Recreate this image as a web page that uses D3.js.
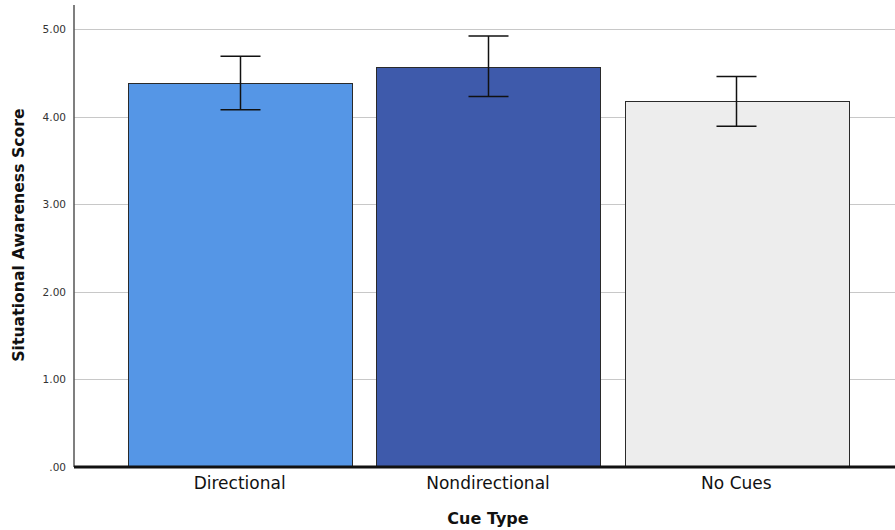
<!DOCTYPE html>
<html>
<head>
<meta charset="utf-8">
<script src="https://cdn.jsdelivr.net/npm/d3@7"></script>
<style>
  body { margin: 0; background: #fff; }
  svg text { font-family: "DejaVu Sans", sans-serif; }
</style>
</head>
<body>
<svg id="chart" width="895" height="530"></svg>
<script>
var categories = ["Directional", "Nondirectional", "No Cues"];
var means = [4.39, 4.57, 4.18];
var ciLow = [4.08, 4.23, 3.89];
var ciHigh = [4.69, 4.92, 4.46];
var barColors = ["#5596e6", "#3e5aab", "#ededed"];
var yTicks = [0, 1, 2, 3, 4, 5];

var svg = d3.select("#chart");

var plotLeft = 74, plotBottom = 467, plotTop = 5, plotRight = 895;

var y = d3.scaleLinear()
        .domain([0, 5.275])
        .range([plotBottom, plotTop]);

var x = d3.scaleBand()
        .domain(categories)
        .range([plotLeft, 902])
        .paddingInner(0.1)
        .paddingOuter(0.217);

// gridlines
svg.append("g")
        .selectAll("line")
        .data(yTicks.slice(1))
        .enter().append("line")
        .attr("x1", plotLeft)
        .attr("x2", plotRight)
        .attr("y1", function(d){ return Math.round(y(d)) + 0.5; })
        .attr("y2", function(d){ return Math.round(y(d)) + 0.5; })
        .style("stroke", "#c8c8c8")
        .style("stroke-width", 1);

// y axis
var yAxis = svg.append("g")
        .attr("transform", "translate(" + plotLeft + ",0)")
        .call(d3.axisLeft(y)
            .tickValues(yTicks)
            .tickSize(0)
            .tickPadding(8)
            .tickFormat(function(d){ return d === 0 ? ".00" : d3.format(".2f")(d); }));
yAxis.select(".domain").remove();
yAxis.selectAll("text")
        .style("font-size", "10.5px")
        .style("fill", "#333");

svg.append("line")
        .attr("x1", plotLeft)
        .attr("x2", plotLeft)
        .attr("y1", plotTop)
        .attr("y2", plotBottom)
        .style("stroke", "#555")
        .style("stroke-width", 1.5);

// bars
svg.append("g")
        .selectAll("rect")
        .data(categories)
        .enter().append("rect")
        .attr("x", function(d){ return Math.round(x(d)) + 0.5; })
        .attr("y", function(d, i){ return Math.round(y(means[i])) + 0.5; })
        .attr("width", Math.round(x.bandwidth()))
        .attr("height", function(d, i){ return plotBottom - Math.round(y(means[i])); })
        .style("fill", function(d, i){ return barColors[i]; })
        .style("stroke", "#2a2a2a")
        .style("stroke-width", 1);

// error bars
var err = svg.append("g");
categories.forEach(function(c, i){
    var cx = Math.round(x(c) + x.bandwidth() / 2) + 0.5;
    err.append("line")
            .attr("x1", cx).attr("x2", cx)
            .attr("y1", y(ciHigh[i])).attr("y2", y(ciLow[i]))
            .style("stroke", "#111").style("stroke-width", 1.5);
    [ciHigh[i], ciLow[i]].forEach(function(v){
        err.append("line")
                .attr("x1", cx - 20).attr("x2", cx + 20)
                .attr("y1", y(v)).attr("y2", y(v))
                .style("stroke", "#111").style("stroke-width", 1.5);
    });
});

// x axis
var xAxis = svg.append("g")
        .attr("transform", "translate(0," + plotBottom + ")")
        .call(d3.axisBottom(x).tickSize(0).tickPadding(10));
xAxis.select(".domain").remove();
xAxis.selectAll("text")
        .style("font-size", "17px")
        .style("fill", "#111");

svg.append("line")
        .attr("x1", plotLeft)
        .attr("x2", plotRight)
        .attr("y1", plotBottom)
        .attr("y2", plotBottom)
        .style("stroke", "#111")
        .style("stroke-width", 3);

// axis titles
svg.append("text")
        .attr("x", 488)
        .attr("y", 524)
        .attr("text-anchor", "middle")
        .style("font-size", "16px")
        .style("font-weight", "bold")
        .style("fill", "#111")
        .text("Cue Type");

svg.append("text")
        .attr("transform", "translate(24,235) rotate(-90)")
        .attr("text-anchor", "middle")
        .style("font-size", "15.7px")
        .style("font-weight", "bold")
        .style("fill", "#111")
        .text("Situational Awareness Score");
</script>
</body>
</html>
